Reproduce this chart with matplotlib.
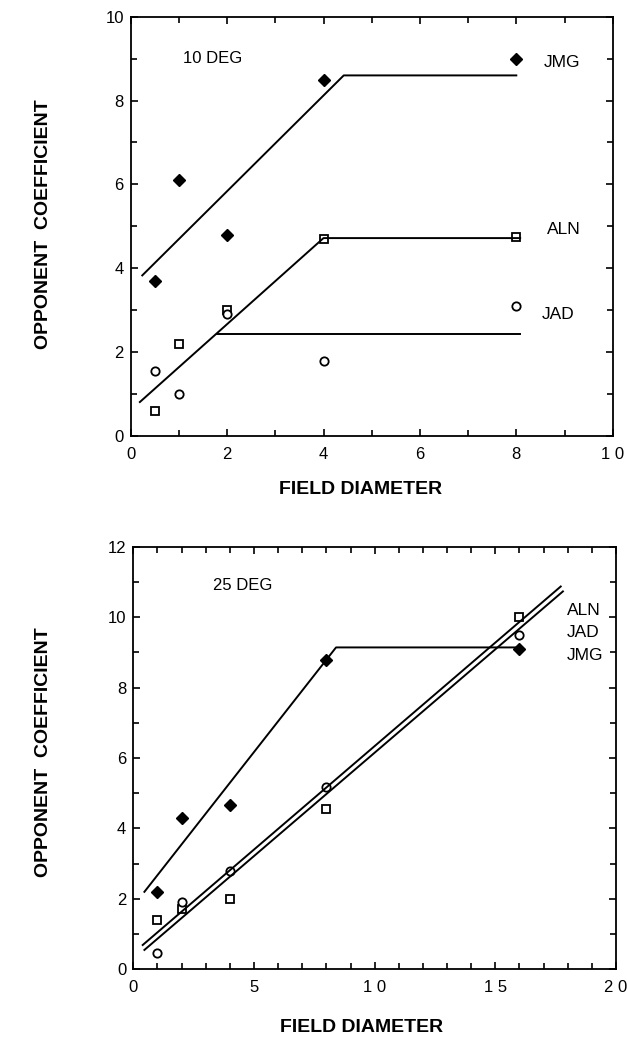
import matplotlib
matplotlib.use("Agg")
import matplotlib.pyplot as plt
from matplotlib.ticker import MultipleLocator

plt.rcParams['font.family'] = ['Liberation Sans', 'DejaVu Sans']

# ---- Top panel (10 DEG) ----
x_top = [0.5, 1, 2, 4, 8]
jmg_top = [3.7, 6.1, 4.8, 8.5, 9.0]
aln_top = [0.6, 2.2, 3.0, 4.7, 4.75]
jad_top = [1.55, 1.0, 2.9, 1.8, 3.1]
# fitted lines (break points)
jmg_fit_top_x = [0.24, 4.42, 8.0]
jmg_fit_top_y = [3.83, 8.6, 8.6]
aln_fit_top_x = [0.19, 4.0, 8.08]
aln_fit_top_y = [0.81, 4.72, 4.72]
jad_fit_top_x = [1.79, 8.08]
jad_fit_top_y = [2.43, 2.43]
xticks_top = [0, 2, 4, 6, 8, 10]
xticklabels_top = ['0', '2', '4', '6', '8', '1 0']
yticks_top = [0, 2, 4, 6, 8, 10]

# ---- Bottom panel (25 DEG) ----
x_bot = [1, 2, 4, 8, 16]
jmg_bot = [2.2, 4.31, 4.67, 8.77, 9.09]
aln_bot = [1.4, 1.7, 2.0, 4.56, 10.0]
jad_bot = [0.47, 1.91, 2.79, 5.17, 9.48]
jmg_fit_bot_x = [0.46, 8.4, 16.0]
jmg_fit_bot_y = [2.2, 9.14, 9.14]
aln_fit_bot_x = [0.39, 17.71]
aln_fit_bot_y = [0.69, 10.87]
jad_fit_bot_x = [0.46, 17.8]
jad_fit_bot_y = [0.55, 10.73]
xticks_bot = [0, 5, 10, 15, 20]
xticklabels_bot = ['0', '5', '1 0', '1 5', '2 0']
yticks_bot = [0, 2, 4, 6, 8, 10, 12]

W, H = 627, 1041
fig = plt.figure(figsize=(W / 100, H / 100), dpi=100)

def rect(l, t, r, b):
    return [l / W, 1 - b / H, (r - l) / W, (b - t) / H]

ax1 = fig.add_axes(rect(130.7, 16.7, 612.7, 436))
ax2 = fig.add_axes(rect(133.3, 546.7, 616, 969.3))

def style(ax):
    for s in ax.spines.values():
        s.set_linewidth(1.3)
    ax.tick_params(which='both', direction='in', top=True, right=True,
                   labelsize=12)
    ax.tick_params(axis='x', pad=8)
    ax.tick_params(axis='y', pad=5)
    ax.tick_params(which='major', length=5, width=1.2)
    ax.tick_params(which='minor', length=4, width=1.2)

mk = dict(color='black', linestyle='none')
lw = 1.4

# Top
ax1.plot(x_top, jmg_top, marker='D', markersize=6.5, markerfacecolor='black', **mk)
ax1.plot(x_top, aln_top, marker='s', markersize=6, markerfacecolor='white',
         markeredgewidth=1.3, **mk)
ax1.plot(x_top, jad_top, marker='o', markersize=6, markerfacecolor='white',
         markeredgewidth=1.3, **mk)
ax1.plot(jmg_fit_top_x, jmg_fit_top_y, color='black', lw=lw)
ax1.plot(aln_fit_top_x, aln_fit_top_y, color='black', lw=lw)
ax1.plot(jad_fit_top_x, jad_fit_top_y, color='black', lw=lw)
ax1.set_xlim(0, 10)
ax1.set_ylim(0, 10)
ax1.set_xticks(xticks_top)
ax1.set_xticklabels(xticklabels_top)
ax1.set_yticks(yticks_top)
ax1.xaxis.set_minor_locator(MultipleLocator(1))
ax1.yaxis.set_minor_locator(MultipleLocator(1))
style(ax1)
ax1.text(1.09, 9.0, '10 DEG', fontsize=12, va='center', ha='left')
ax1.text(8.56, 8.9, 'JMG', fontsize=12.5, va='center', ha='left')
ax1.text(8.63, 4.92, 'ALN', fontsize=12.5, va='center', ha='left')
ax1.text(8.53, 2.89, 'JAD', fontsize=12.5, va='center', ha='left')

# Bottom
ax2.plot(x_bot, jmg_bot, marker='D', markersize=6.5, markerfacecolor='black', **mk)
ax2.plot(x_bot, aln_bot, marker='s', markersize=6, markerfacecolor='white',
         markeredgewidth=1.3, **mk)
ax2.plot(x_bot, jad_bot, marker='o', markersize=6, markerfacecolor='white',
         markeredgewidth=1.3, **mk)
ax2.plot(jmg_fit_bot_x, jmg_fit_bot_y, color='black', lw=lw)
ax2.plot(aln_fit_bot_x, aln_fit_bot_y, color='black', lw=lw)
ax2.plot(jad_fit_bot_x, jad_fit_bot_y, color='black', lw=lw)
ax2.set_xlim(0, 20)
ax2.set_ylim(0, 12)
ax2.set_xticks(xticks_bot)
ax2.set_xticklabels(xticklabels_bot)
ax2.set_yticks(yticks_bot)
ax2.xaxis.set_minor_locator(MultipleLocator(1))
ax2.yaxis.set_minor_locator(MultipleLocator(1))
style(ax2)
ax2.text(4.55, 10.9, '25 DEG', fontsize=12, va='center', ha='center')
ax2.text(17.97, 10.2, 'ALN', fontsize=12.5, va='center', ha='left')
ax2.text(17.97, 9.55, 'JAD', fontsize=12.5, va='center', ha='left')
ax2.text(17.97, 8.9, 'JMG', fontsize=12.5, va='center', ha='left')

# Axis titles placed in figure pixel coordinates
def ftext(x, y, s, **kw):
    fig.text(x / W, 1 - y / H, s, ha='center', va='center',
             fontsize=14, fontweight='bold', **kw)

ftext(361, 490, 'FIELD DIAMETER')
ftext(362, 1028, 'FIELD DIAMETER')
ftext(43, 224, 'OPPONENT  COEFFICIENT', rotation=90)
ftext(43, 752, 'OPPONENT  COEFFICIENT', rotation=90)

fig.savefig('out.png', dpi=100)
